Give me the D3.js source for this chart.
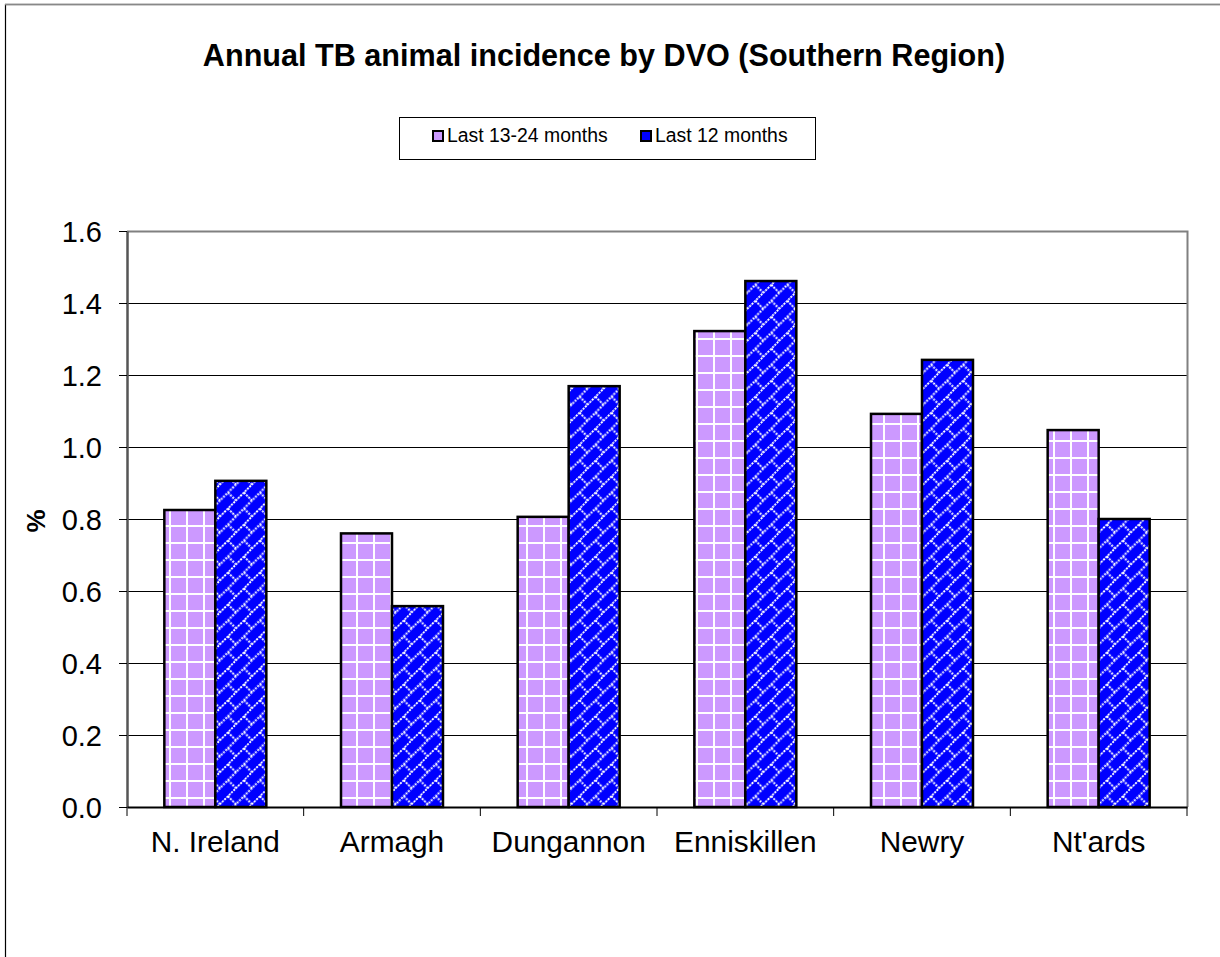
<!DOCTYPE html>
<html><head><meta charset="utf-8">
<script src="https://cdn.jsdelivr.net/npm/d3@7"></script>
<style>body{margin:0;background:#fff;font-family:"Liberation Sans",Arial,sans-serif;}</style>
</head><body>
<svg id="c" width="1220" height="957"></svg>
<script>
const categories = ["N. Ireland","Armagh","Dungannon","Enniskillen","Newry","Nt'ards"];
const seriesNames = ["Last 13-24 months","Last 12 months"];
const prev = [0.825,0.760,0.806,1.322,1.092,1.047];
const last = [0.906,0.558,1.169,1.461,1.242,0.800];
const yTicks = [0,0.2,0.4,0.6,0.8,1.0,1.2,1.4,1.6];

const svg = d3.select("#c");
const W=1220,H=957;
const m={l:127,r:1187,t:231,b:807};
const FONT="Liberation Sans, Arial, sans-serif";
const defs = svg.append("defs");
// purple grid pattern
const p1 = defs.append("pattern").attr("id","pGrid").attr("patternUnits","userSpaceOnUse")
  .attr("width",17).attr("height",17).attr("x",1).attr("y",0);
p1.append("rect").attr("width",17).attr("height",17).attr("fill","#CC99FF");
p1.append("rect").attr("x",15).attr("y",0).attr("width",2).attr("height",17).attr("fill","#fff");
p1.append("rect").attr("x",0).attr("y",15).attr("width",17).attr("height",2).attr("fill","#fff");
// blue brick diagonal pattern
const p2 = defs.append("pattern").attr("id","pBrick").attr("patternUnits","userSpaceOnUse")
  .attr("width",22.6).attr("height",22.6).attr("patternTransform","rotate(-45)");
p2.append("rect").attr("width",22.6).attr("height",22.6).attr("fill","#0000FF");
const st={stroke:"#fff","stroke-width":2,"stroke-dasharray":"2 1.2"};
function ln(g,x1,y1,x2,y2){const l=g.append("line").attr("x1",x1).attr("y1",y1).attr("x2",x2).attr("y2",y2);for(const k in st)l.attr(k,st[k]);}
ln(p2,0,1,22.6,1);
ln(p2,0,12.3,22.6,12.3);
ln(p2,5,1,5,12.3);
ln(p2,16.3,12.3,16.3,23.6);
ln(p2,16.3,-10,16.3,1);

// outer border
svg.append("rect").attr("x",5.5).attr("y",4.5).attr("width",W).attr("height",H).attr("fill","none").attr("stroke","#000").attr("stroke-width",1.2);
svg.append("line").attr("x1",5).attr("x2",W).attr("y1",4.5).attr("y2",4.5).attr("stroke","#888").attr("stroke-width",1.5);

const x0 = d3.scaleBand().domain(categories).range([m.l,m.r]).paddingInner(0).paddingOuter(0);
const bw = 51;
const y = d3.scaleLinear().domain([0,1.6]).range([m.b,m.t]);

// gridlines
svg.append("g").selectAll("line").data(yTicks.slice(1)).join("line")
  .attr("x1",m.l).attr("x2",m.r).attr("y1",d=>Math.round(y(d))+0.5).attr("y2",d=>Math.round(y(d))+0.5)
  .attr("stroke","#000").attr("stroke-width",1);
// plot border top/right gray
svg.append("path").attr("d",`M${m.l},${m.t+0.5}H${m.r+0.5}V${m.b}`).attr("fill","none").attr("stroke","#808080").attr("stroke-width",2);

// bars
const data = categories.map((c,i)=>({c,v:[prev[i],last[i]]}));
const g = svg.append("g");
data.forEach(d=>{
  const cx = x0(d.c)+x0.bandwidth()/2;
  [0,1].forEach(k=>{
    const xl = k===0 ? cx-bw : cx;
    g.append("rect").attr("x",xl).attr("y",y(d.v[k])).attr("width",bw).attr("height",y(0)-y(d.v[k]))
     .attr("fill",k===0?"url(#pGrid)":"url(#pBrick)").attr("stroke","#000").attr("stroke-width",2.5);
  });
});

// y axis
const ya = svg.append("g").attr("transform",`translate(${m.l},0)`)
  .call(d3.axisLeft(y).tickValues(yTicks).tickFormat(d3.format(".1f")).tickSize(8).tickSizeOuter(0));
ya.select(".domain").attr("stroke","#555").attr("stroke-width",2.5);
ya.selectAll(".tick line").attr("stroke","#000");
ya.selectAll("text").attr("font-family",FONT).attr("font-size",29).attr("fill","#000").attr("x",-25).attr("dy","0.36em");

// x axis
const xa = svg.append("g").attr("transform",`translate(0,${m.b})`)
  .call(d3.axisBottom(x0).tickSize(0).tickSizeOuter(0));
xa.select(".domain").attr("stroke","#000").attr("stroke-width",2);
xa.selectAll("text").attr("font-family",FONT).attr("font-size",29.8).attr("fill","#000").attr("y",45).attr("dy","0");
// boundary ticks
const bounds = categories.map(c=>x0(c)).concat([m.r]);
svg.append("g").selectAll("line").data(bounds).join("line")
  .attr("x1",d=>d).attr("x2",d=>d).attr("y1",m.b).attr("y2",m.b+9).attr("stroke","#000").attr("stroke-width",1);

// y label
svg.append("text").attr("transform","translate(45,521) rotate(-90)").attr("text-anchor","middle")
  .attr("font-size",26).attr("font-weight","bold").text("%");

// title
svg.append("text").attr("x",604).attr("y",66).attr("text-anchor","middle").attr("font-size",30.6).attr("font-weight","bold").text("Annual TB animal incidence by DVO (Southern Region)");

// legend
const lg = svg.append("g");
lg.append("rect").attr("x",399.5).attr("y",117.5).attr("width",416).attr("height",42).attr("fill","#fff").attr("stroke","#000").attr("stroke-width",1);
const legX=[432,640];
seriesNames.forEach((s,i)=>{
  lg.append("rect").attr("x",legX[i]+1).attr("y",131).attr("width",10).attr("height",10)
    .attr("fill",i===0?"#CC99FF":"#0000FF").attr("stroke","#000").attr("stroke-width",2);
  lg.append("text").attr("x",legX[i]+15).attr("y",142).attr("font-size",19.4).text(s);
});
</script>
</body></html>
